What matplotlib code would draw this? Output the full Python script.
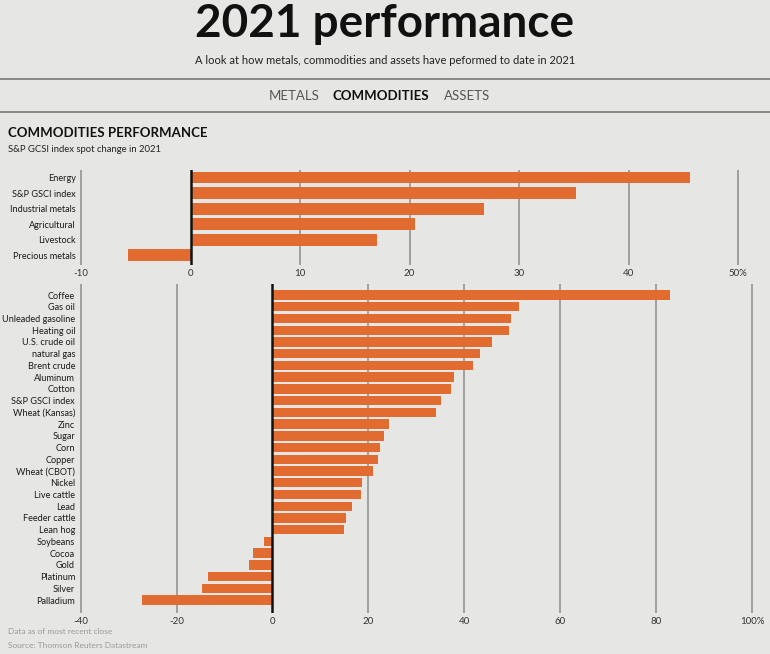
import matplotlib.pyplot as plt
import numpy as np

# top panel: sector indices
sectors = ['Energy', 'S&P GSCI index', 'Industrial metals', 'Agricultural',
           'Livestock', 'Precious metals']
sector_chg = [45.6, 35.2, 26.8, 20.5, 17.0, -5.7]
top_ticks = [-10, 0, 10, 20, 30, 40, 50]
top_ticklabels = ['-10', '0', '10', '20', '30', '40', '50%']

# bottom panel: single commodities
items = ['Coffee', 'Gas oil', 'Unleaded gasoline', 'Heating oil', 'U.S. crude oil',
         'natural gas', 'Brent crude', 'Aluminum', 'Cotton', 'S&P GSCI index',
         'Wheat (Kansas)', 'Zinc', 'Sugar', 'Corn', 'Copper', 'Wheat (CBOT)',
         'Nickel', 'Live cattle', 'Lead', 'Feeder cattle', 'Lean hog',
         'Soybeans', 'Cocoa', 'Gold', 'Platinum', 'Silver', 'Palladium']
item_chg = [82.9, 51.4, 49.8, 49.3, 45.8, 43.3, 41.9, 37.9, 37.3, 35.1,
            34.2, 24.2, 23.3, 22.5, 21.9, 21.0, 18.7, 18.5, 16.6, 15.3, 14.9,
            -1.75, -4.1, -4.8, -13.5, -14.7, -27.2]
bot_ticks = [-40, -20, 0, 20, 40, 60, 80, 100]
bot_ticklabels = ['-40', '-20', '0', '20', '40', '60', '80', '100%']

BG = '#e6e7e4'
ORANGE = '#e26b2f'
GRID = '#9a9a9a'
W, H = 770, 654

fig = plt.figure(figsize=(7.7, 6.54), dpi=100, facecolor=BG)


def px_axes(x0, y0, x1, y1):
    return fig.add_axes([x0 / W, 1 - y1 / H, (x1 - x0) / W, (y1 - y0) / H])


def bar_panel(ax, labels, vals, ticks, ticklabels, height, ypad):
    ax.set_facecolor(BG)
    y = np.arange(len(labels))
    for t in ticks:
        if t != 0:
            ax.axvline(t, color=GRID, lw=1.3, zorder=0)
    ax.barh(y, vals, height=height, color=ORANGE, zorder=2)
    ax.axvline(0, color='#111111', lw=1.8, zorder=3)
    ax.set_yticks(y)
    ax.set_yticklabels(labels, fontsize=6.6, color='#1a1a1a', family='Lato')
    ax.set_xticks(ticks)
    ax.set_xticklabels(ticklabels, fontsize=7, color='#333333', family='Lato')
    ax.tick_params(length=0, axis='y', pad=ypad)
    ax.tick_params(length=0, axis='x', pad=3)
    for s in ax.spines.values():
        s.set_visible(False)


# top chart
ax1 = px_axes(81 - 0.3 * 10.95, 170, 738 + 0.3 * 10.95, 265)
bar_panel(ax1, sectors, sector_chg, top_ticks, top_ticklabels, 0.76, 1.5)
ax1.set_xlim(-10.3, 50.3)
ax1.set_ylim(5.62, -0.48)

# bottom chart
ax2 = px_axes(80.7 - 0.3 * 4.8, 284, 752 + 0.3 * 4.8, 613)
bar_panel(ax2, items, item_chg, bot_ticks, bot_ticklabels, 0.8, 3)
ax2.set_xlim(-40.3, 100.3)
ax2.set_ylim(27.1, -0.94)

# header text
fig.text(0.5, 1 - 24 / H, '2021 performance', ha='center', va='center',
         fontsize=33, fontweight='bold', color='#111111', family='Lato')
fig.text(0.5, 1 - 61 / H,
         'A look at how metals, commodities and assets have peformed to date in 2021',
         ha='center', va='center', fontsize=8, color='#222222', family='Lato')
for yy in (79, 112):
    fig.add_artist(plt.Line2D([0, 1], [1 - yy / H, 1 - yy / H], color='#777777', lw=1.2))
fig.text(0.382, 1 - 96 / H, 'METALS', ha='center', va='center', fontsize=9.5,
         color='#555555', family='Lato')
fig.text(0.494, 1 - 96 / H, 'COMMODITIES', ha='center', va='center', fontsize=9.5,
         color='#111111', family='Lato', fontweight='bold')
fig.text(0.606, 1 - 96 / H, 'ASSETS', ha='center', va='center', fontsize=9.5,
         color='#555555', family='Lato')

fig.text(8 / W, 1 - 133 / H, 'COMMODITIES PERFORMANCE', ha='left', va='center',
         fontsize=9.5, fontweight='bold', color='#111111', family='Lato')
fig.text(8 / W, 1 - 149 / H, 'S&P GCSI index spot change in 2021', ha='left',
         va='center', fontsize=6.8, color='#222222', family='Lato')

fig.text(8 / W, 1 - 632 / H, 'Data as of most recent close', ha='left', va='center',
         fontsize=6, color='#9a9a9a', family='Lato')
fig.text(8 / W, 1 - 645 / H, 'Source: Thomson Reuters Datastream', ha='left',
         va='center', fontsize=6, color='#9a9a9a', family='Lato')

fig.savefig('out.png', dpi=100, facecolor=BG)
